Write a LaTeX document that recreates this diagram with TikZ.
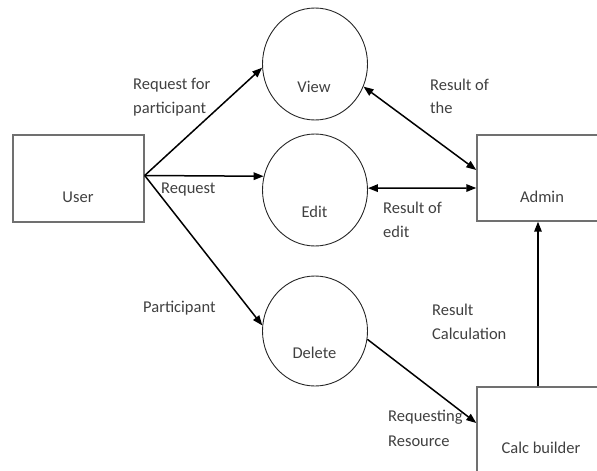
\documentclass[tikz,border=0pt]{standalone}
\usepackage{fontspec}
\setmainfont{Carlito}
\usetikzlibrary{shapes.geometric,arrows.meta,calc}
\definecolor{txtc}{HTML}{404040}
\definecolor{boxc}{HTML}{707070}
\tikzset{
  lbl/.style={anchor=base west,inner sep=0pt,text=txtc,font=\fontsize{16.5}{19}\selectfont},
  ctr/.style={anchor=base,inner sep=0pt,text=txtc,font=\fontsize{16.5}{19}\selectfont},
  proc/.style={draw=black!85,line width=0.9pt,ellipse,minimum width=105pt,minimum height=112pt,inner sep=0pt},
  entity/.style={draw=boxc,line width=1.4pt,rectangle,inner sep=0pt},
  flow/.style={line width=1.5pt,-{Triangle[length=10pt,width=7.5pt]}},
  bflow/.style={line width=1.5pt,{Triangle[length=10pt,width=7.5pt]}-{Triangle[length=10pt,width=7.5pt]}}
}
\begin{document}
\begin{tikzpicture}[x=1pt,y=-1pt]
\useasboundingbox (0,0) rectangle (597,471);
% entities
\node[entity,minimum width=131pt,minimum height=87pt] (user) at (78.5,178.5) {};
\node[entity,minimum width=150pt,minimum height=86pt] (admin) at (552,178) {};
\node[entity,minimum width=150pt,minimum height=140pt] (calc) at (552,457) {};
% processes
\node[proc] (view) at (315,64) {};
\node[proc] (edit) at (315,190) {};
\node[proc,minimum height=110pt] (delete) at (315,331) {};
% texts
\node[ctr] (tuser) at (78,202) {User};
\node[ctr] (tview) at (314,92) {View};
\node[ctr] (tedit) at (314.5,217) {Edit};
\node[ctr] (tdelete) at (314.5,358) {Delete};
\node[ctr] (tadmin) at (542,202) {Admin};
\node[ctr] (tcalc) at (541,453) {Calc builder};
% labels
\node[lbl] (l1) at (133,89) {Request for};
\node[lbl] (l2) at (133,113) {participant};
\node[lbl] (l3) at (161,193) {Request};
\node[lbl] (l4) at (143,312) {Participant};
\node[lbl] (l5) at (430,90) {Result of};
\node[lbl] (l6) at (430,113) {the};
\node[lbl] (l7) at (383,213) {Result of};
\node[lbl] (l8) at (383,237) {edit};
\node[lbl] (l9) at (432,315) {Result};
\node[lbl] (l10) at (432,339) {Calculation};
\node[lbl] (l11) at (388,421) {Requesting};
\node[lbl] (l12) at (388,446) {Resource};
% connectors
\coordinate (us) at ([yshift=3pt]user.east);
\draw[flow] (us) -- (view.184);
\draw[flow] (us) -- (edit.165);
\draw[flow] (us) -- (delete.174);
\draw[bflow] (view.-25) -- ([yshift=8pt]admin.west);
\draw[bflow] (edit.2) -- ([yshift=-10pt]admin.west);
\draw[flow] (delete.-9) -- ([yshift=34pt]calc.west);
\draw[flow] ([xshift=-14pt]calc.north) -- ([xshift=-14pt]admin.south);
\end{tikzpicture}
\end{document}
